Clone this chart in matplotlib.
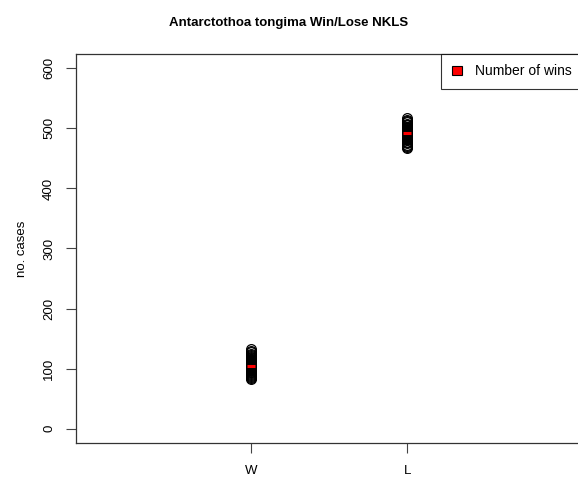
import matplotlib
matplotlib.use("Agg")
import matplotlib.pyplot as plt
import numpy as np
from matplotlib.patches import Patch

plt.rcParams["font.family"] = ["Liberation Sans", "DejaVu Sans"]

# wins / losses counts per resample
categories = ["W", "L"]
wins = [82, 84, 86, 88, 89, 91, 92, 94, 95, 96, 97, 98, 99, 100, 101, 102,
        103, 104, 104, 105, 105, 105, 106, 106, 107, 108, 109, 110, 111, 112,
        113, 114, 115, 116, 118, 119, 121, 123, 125, 127, 129, 132]
losses = [467, 469, 471, 473, 475, 477, 478, 480, 481, 482, 483, 484, 485,
          486, 487, 488, 489, 490, 491, 491, 492, 492, 492, 493, 493, 494,
          495, 496, 497, 498, 499, 500, 501, 502, 503, 505, 506, 508, 510,
          512, 514, 517]
y_ticks = [0, 100, 200, 300, 400, 500, 600]

fig = plt.figure(figsize=(5.78, 4.79), dpi=100)
ax = fig.add_axes([0.1315, 0.0752, 0.8754, 0.8121])

for i, vals in enumerate([wins, losses], start=1):
    ax.plot([i] * len(vals), vals, linestyle="none", marker="o",
            markerfacecolor="none", markeredgecolor="black",
            markersize=7, markeredgewidth=0.9)
    ax.hlines(np.median(vals), i - 0.027, i + 0.027, color="red", lw=2.2,
              zorder=5)

ax.set_xlim(-0.12, 3.12)
ax.set_ylim(-24, 624)
ax.set_xticks([1, 2])
ax.set_xticklabels(categories)
ax.set_yticks(y_ticks)
ax.set_yticklabels([str(t) for t in y_ticks], rotation=90, va="center")
ax.tick_params(axis="both", labelsize=9.5, length=7, width=0.8,
               color="#444444", pad=8)
ax.tick_params(axis="x", pad=9)
for s in ax.spines.values():
    s.set_linewidth(0.9)
    s.set_color("#333333")
ax.set_ylabel("no. cases", fontsize=9.5, labelpad=11)

fig.text(0.5, 0.952, "Antarctothoa tongima Win/Lose NKLS", ha="center",
         va="center", fontsize=9.5, fontweight="bold")

leg = ax.legend(handles=[Patch(facecolor="red", edgecolor="black", lw=0.8)],
                labels=["Number of wins"], loc="upper right",
                borderaxespad=0, fontsize=10, fancybox=False,
                edgecolor="black", handlelength=0.75, handleheight=0.7,
                borderpad=0.75, handletextpad=0.9)
leg.get_frame().set_linewidth(0.8)

fig.savefig("out.png", dpi=100)
